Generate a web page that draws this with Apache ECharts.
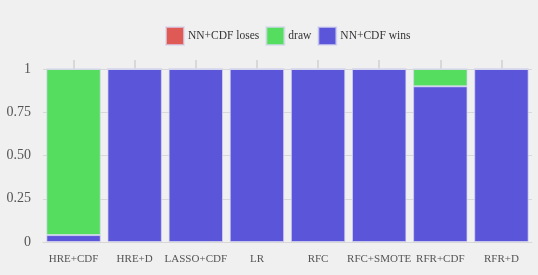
<!DOCTYPE html>
<html><head><meta charset="utf-8">
<script src="https://cdn.jsdelivr.net/npm/echarts@6/dist/echarts.min.js"></script>
<style>html,body{margin:0;padding:0;background:#f0f0f0;}#c{width:538px;height:275px;}</style>
</head><body><div id="c"></div>
<script>
const categories = ["HRE+CDF","HRE+D","LASSO+CDF","LR","RFC","RFC+SMOTE","RFR+CDF","RFR+D"];
const wins = [0.04,1,1,1,1,1,0.9,1];
const draw = [0.96,0,0,0,0,0,0.1,0];
const loses = [0,0,0,0,0,0,0,0];
const yTicks = ["0","0.25","0.50","0.75","1"];
const font = "Liberation Serif";
const chart = echarts.init(document.getElementById('c'));
const border = {borderColor:'rgba(215,215,240,0.7)', borderWidth:1};
chart.setOption({
  backgroundColor:'#f0f0f0',
  animation:false,
  textStyle:{fontFamily:font},
  legend:{top:21,left:160,itemWidth:18,itemHeight:18,itemGap:6,icon:'rect',
    textStyle:{fontFamily:font,fontSize:11.5,color:'#333',padding:[0,0,0,-1]},
    data:['NN+CDF loses','draw','NN+CDF wins']},
  grid:{left:43,right:6,top:69,bottom:33},
  xAxis:[{type:'category',data:categories,
    axisLine:{lineStyle:{color:'#d8d8d8'}},
    axisTick:{alignWithLabel:true,interval:0,length:8,lineStyle:{color:'#d8d8d8',width:2}},
    axisLabel:{fontFamily:font,fontSize:11,color:'#555',margin:12,interval:0}},
   {type:'category',data:categories,position:'top',show:true,
    axisLine:{show:true,onZero:false,lineStyle:{color:'rgba(0,0,0,0)'}},axisLabel:{show:false,interval:0},
    axisTick:{show:true,interval:0,alignWithLabel:true,length:9,lineStyle:{color:'#d8d8d8',width:2}}}],
  yAxis:{type:'value',min:0,max:1,interval:0.25,
    axisLine:{show:false},axisTick:{show:false},
    splitLine:{lineStyle:{color:'#d8d8d8',width:1}},
    axisLabel:{fontFamily:font,fontSize:14,color:'#555',margin:12,
      formatter:(v)=>yTicks[Math.round(v/0.25)]}},
  series:[
    {name:'NN+CDF wins',type:'bar',stack:'a',data:wins,barCategoryGap:'11%',itemStyle:Object.assign({color:'#5b56d9'},border)},
    {name:'draw',type:'bar',stack:'a',data:draw,itemStyle:Object.assign({color:'#55dd60'},border)},
    {name:'NN+CDF loses',type:'bar',stack:'a',data:loses,itemStyle:Object.assign({color:'#e05a55'},border)}
  ]
});
</script></body></html>
